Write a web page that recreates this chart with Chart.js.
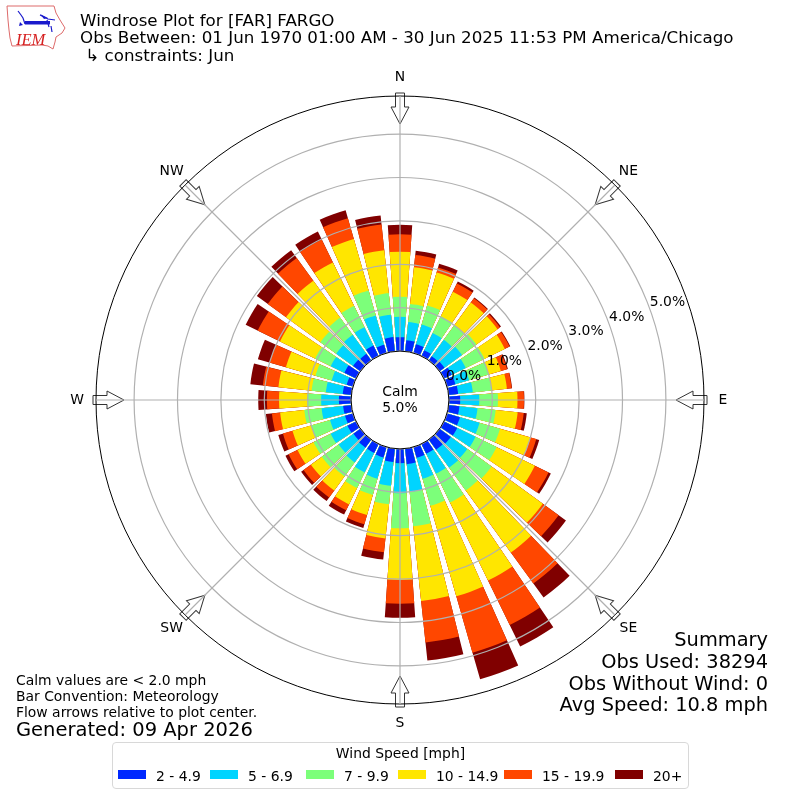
<!DOCTYPE html>
<html>
<head>
<meta charset="utf-8">
<title>Windrose Plot for [FAR] FARGO</title>
<script src="https://cdn.jsdelivr.net/npm/chart.js@4"></script>
<style>
  html, body { margin: 0; padding: 0; background: #fff; }
  body { width: 800px; height: 800px; position: relative; overflow: hidden; font-family: "DejaVu Sans", sans-serif; color: #000; }
  canvas { position: absolute; left: 0; top: 0; }
  .txt { position: absolute; white-space: pre; }
  #title { left: 80px; top: 12px; font-size: 16.7px; line-height: 17.4px; }
  #summary { right: 32px; top: 629px; font-size: 19.4px; line-height: 21.8px; text-align: right; }
  #notes { left: 16px; top: 672px; font-size: 13.9px; line-height: 16.2px; }
  #generated { left: 16px; top: 719px; font-size: 19.5px; line-height: 22px; }
  #legend { position: absolute; left: 112px; top: 742px; width: 575px; height: 45px; border: 1px solid #d8d8d8; border-radius: 4px; font-size: 13.9px; }
  #legend .head { position: absolute; left: 0; right: 0; top: 2px; text-align: center; }
  #legend .key { position: absolute; top: 25px; white-space: pre; }
  #legend .key i { position: absolute; left: -38px; top: 2px; width: 28px; height: 9px; }
  svg { position: absolute; left: 0; top: 0; }
</style>
</head>
<body>
<canvas id="chart" width="800" height="800"></canvas>

<svg width="70" height="55" viewBox="0 0 70 55">
  <path d="M7 6 L54 6 L56 13 L60 20 L65 28 L62 33 L56 37 L55 42 L53 49 L48 46 L42 45 L12 46 L10 38 L9 30 L8 20 Z" fill="none" stroke="#dd6a6a" stroke-width="1"/>
  <path d="M25 23 L50 23 M18 11 L21 15 L23 18 L25 24 M40 15 L48 19 L55 20 M47 20 L49 27 M51 26 L52 32" fill="none" stroke="#1a1acc" stroke-width="1.2"/>
  <path d="M25 21 L50 21 L50 24.5 L25 24.5 Z M40 14 L48 18 L44 19 Z M20 22 L23 25 L19 26 Z" fill="#1a1acc"/>
  <text x="16" y="44.5" font-family="Liberation Serif" font-style="italic" font-size="16.5" fill="#d62020">IEM</text>
</svg>

<div id="title" class="txt">Windrose Plot for [FAR] FARGO
Obs Between: 01 Jun 1970 01:00 AM - 30 Jun 2025 11:53 PM America/Chicago
 ↳ constraints: Jun</div>
<div id="summary" class="txt">Summary
Obs Used: 38294
Obs Without Wind: 0
Avg Speed: 10.8 mph</div>
<div id="notes" class="txt">Calm values are &lt; 2.0 mph
Bar Convention: Meteorology
Flow arrows relative to plot center.</div>
<div id="generated" class="txt">Generated: 09 Apr 2026</div>
<div id="legend"></div>

<script>
// percent of obs per 10 degree sector, starting at north going clockwise
const directions = [0, 10, 20, 30, 40, 50, 60, 70, 80, 90, 100, 110, 120, 130, 140, 150, 160, 170,
                    180, 190, 200, 210, 220, 230, 240, 250, 260, 270, 280, 290, 300, 310, 320, 330, 340, 350];
const speed2to5   = [.32, .26, .21, .15, .12, .14, .20, .20, .22, .26, .25, .31, .34, .32, .29, .25, .26, .36,
                     .33, .31, .25, .23, .23, .20, .22, .19, .19, .28, .20, .15, .30, .21, .19, .27, .20, .33];
const speed5to7   = [.47, .42, .47, .44, .47, .50, .36, .33, .34, .44, .42, .47, .47, .47, .51, .51, .50, .64,
                     .69, .55, .51, .50, .42, .42, .43, .36, .50, .41, .39, .36, .35, .48, .54, .47, .70, .52];
const speed7to10  = [.46, .42, .46, .43, .42, .41, .48, .47, .43, .43, .42, .49, .54, .69, .65, .74, .65, .80,
                     .81, .43, .39, .40, .40, .48, .44, .45, .40, .32, .33, .39, .40, .45, .49, .55, .60, .50];
const speed10to15 = [1.04, .85, .79, .63, .64, .60, .52, .29, .36, .45, .51, .73, .98, 1.46, 1.77, 2.00, 2.17, 1.73,
                     1.19, .79, .48, .42, .40, .31, .41, .45, .56, .65, .77, .71, .90, .98, 1.05, 1.11, 1.23, .99];
const speed15to20 = [.40, .28, .12, .21, .12, .07, .12, .15, .11, .15, .14, .14, .35, .45, .88, 1.14, 1.35, .96,
                     .55, .32, .22, .15, .20, .21, .23, .23, .19, .28, .36, .39, .57, .52, .65, .59, .50, .60];
const speed20up   = [.22, .10, .09, .05, .02, .03, .02, .02, .01, .01, .07, .07, .06, .21, .40, .55, .64, .42,
                     .32, .17, .09, .11, .10, .07, .08, .11, .14, .20, .29, .28, .31, .31, .22, .20, .19, .21];

const speedSeries = [speed2to5, speed5to7, speed7to10, speed10to15, speed15to20, speed20up];
const speedLabels = ['2 - 4.9', '5 - 6.9', '7 - 9.9', '10 - 14.9', '15 - 19.9', '20+'];
const speedColors = ['#0028ff', '#00d4ff', '#7cff7a', '#ffe600', '#ff4700', '#800000'];
const legendLefts = [43, 135, 231, 323, 429, 540];

const compassLabels = ['N', 'NE', 'E', 'SE', 'S', 'SW', 'W', 'NW'];
const gridTicks = [0, 1, 2, 3, 4, 5];
const calmText = ['Calm', '5.0%'];

// 0% sits on the edge of the calm circle, not the middle
const rMin = -1.127;
const rMax = 5.878;
const barAngle = 8;
const gapAngle = 2;
const labelAngle = 20;

function sectorLabels() {
    const out = [];
    directions.forEach(d => out.push('', d + '°'));
    return out;
}

// polarArea has no stacking, so each series is a running total and
// the first dataset is painted last. Every bar follows a blank gap slice.
function stackedData(upto) {
    const out = [];
    directions.forEach((d, i) => {
        let total = 0;
        for (let k = 0; k <= upto; k++) total += speedSeries[k][i];
        out.push(rMin, total);
    });
    return out;
}

const sliceAngle = ctx => {
    if (ctx.dataIndex === 0) return gapAngle / 2;
    return ctx.dataIndex % 2 ? barAngle : gapAngle;
};

const toXY = (scale, value, deg) => {
    const r = scale.getDistanceFromCenterForValue(value);
    const a = deg * Math.PI / 180;
    return [scale.xCenter + r * Math.sin(a), scale.yCenter - r * Math.cos(a)];
};

function drawArrow(ctx, scale, deg) {
    ctx.save();
    ctx.translate(scale.xCenter, scale.yCenter);
    ctx.rotate(deg * Math.PI / 180);
    ctx.beginPath();
    ctx.moveTo(-4.5, -307);
    ctx.lineTo(4.5, -307);
    ctx.lineTo(4.5, -293);
    ctx.lineTo(9, -293);
    ctx.lineTo(0, -276);
    ctx.lineTo(-9, -293);
    ctx.lineTo(-4.5, -293);
    ctx.closePath();
    ctx.fillStyle = '#fff';
    ctx.fill();
    ctx.strokeStyle = '#333';
    ctx.lineWidth = 1;
    ctx.stroke();
    ctx.restore();
}

const roseExtras = {
    id: 'roseExtras',
    // before the z:1 grid layer, so spokes and the outer ring cross the arrows
    afterDatasetsDraw(chart) {
        const scale = chart.scales.r;
        compassLabels.forEach((c, i) => drawArrow(chart.ctx, scale, i * 45));
    },
    afterDraw(chart) {
        const ctx = chart.ctx;
        const scale = chart.scales.r;
        const hole = scale.getDistanceFromCenterForValue(0);

        ctx.save();
        ctx.beginPath();
        ctx.arc(scale.xCenter, scale.yCenter, hole, 0, Math.PI * 2);
        ctx.fillStyle = '#fff';
        ctx.fill();
        ctx.strokeStyle = '#000';
        ctx.lineWidth = 1;
        ctx.stroke();

        ctx.fillStyle = '#000';
        ctx.font = '13.9px "DejaVu Sans"';
        ctx.textAlign = 'center';
        ctx.textBaseline = 'middle';
        ctx.fillText(calmText[0], scale.xCenter, scale.yCenter - 7.5);
        ctx.fillText(calmText[1], scale.xCenter, scale.yCenter + 8);

        compassLabels.forEach((c, i) => {
            const a = i * 45 * Math.PI / 180;
            ctx.fillText(c, scale.xCenter + 323 * Math.sin(a), scale.yCenter - 323 * Math.cos(a));
        });

        ctx.textAlign = 'left';
        gridTicks.forEach(v => {
            const [x, y] = toXY(scale, v, 90 - labelAngle);
            ctx.fillText(v.toFixed(1) + '%', x, y - 7);
        });
        ctx.restore();
    }
};

new Chart(document.getElementById('chart'), {
    type: 'polarArea',
    data: {
        labels: sectorLabels(),
        datasets: speedSeries.map((s, k) => ({
            label: speedLabels[k],
            data: stackedData(k),
            backgroundColor: speedColors[k],
            borderWidth: 0,
            angle: sliceAngle
        }))
    },
    options: {
        responsive: false,
        animation: false,
        devicePixelRatio: 1,
        layout: { padding: 96 },
        plugins: { legend: { display: false }, tooltip: { enabled: false } },
        scales: {
            r: {
                min: rMin,
                max: rMax,
                startAngle: -5,
                afterBuildTicks(axis) {
                    axis.ticks = gridTicks.concat(rMax).map(v => ({ value: v }));
                },
                ticks: { display: false },
                grid: {
                    z: 1,
                    circular: true,
                    lineWidth: ctx => ctx.tick.value === rMax ? 1 : 1.2,
                    color: ctx => ctx.tick.value === rMax ? '#000' : '#b0b0b0'
                },
                angleLines: {
                    display: true,
                    color: '#b0b0b0',
                    lineWidth: ctx => ctx.index % 9 === 1 ? 1.2 : 0
                },
                pointLabels: { display: false }
            }
        }
    },
    plugins: [roseExtras]
});

const legend = document.getElementById('legend');
legend.innerHTML = '<div class="head">Wind Speed [mph]</div>';
speedLabels.forEach((label, k) => {
    const key = document.createElement('div');
    key.className = 'key';
    key.style.left = legendLefts[k] + 'px';
    key.innerHTML = '<i style="background:' + speedColors[k] + '"></i>' + label;
    legend.appendChild(key);
});
</script>
</body>
</html>
